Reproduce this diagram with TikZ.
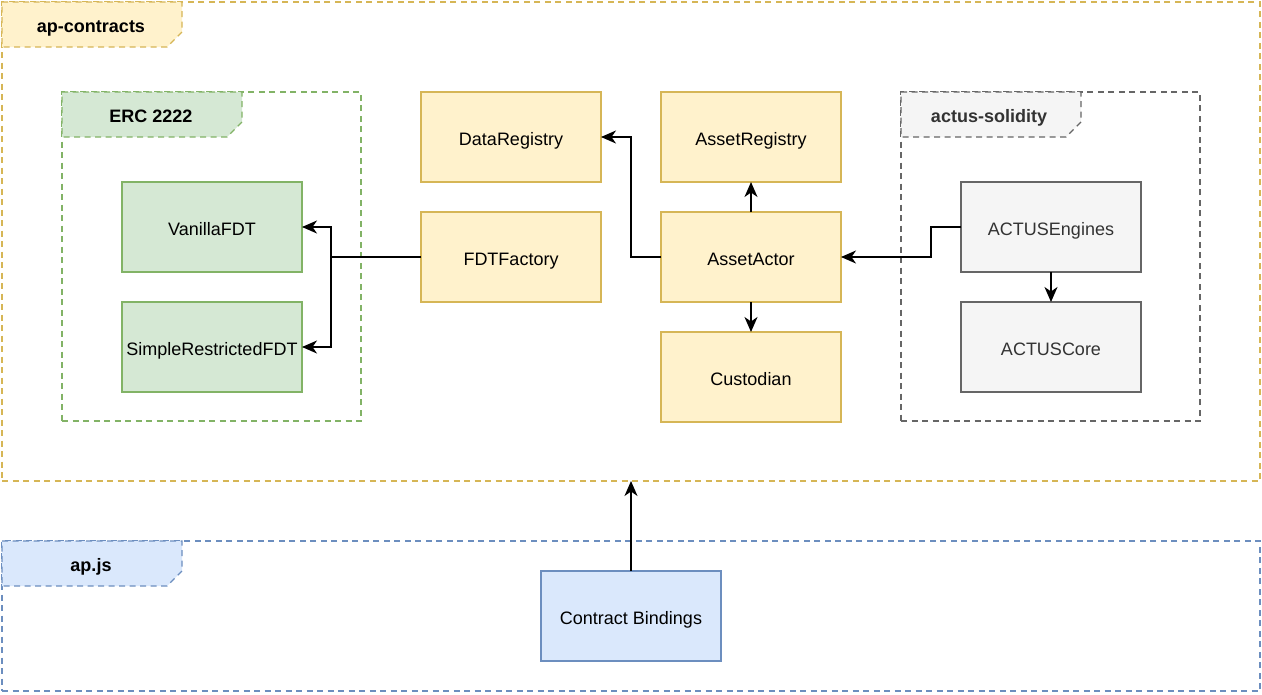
\documentclass[tikz,border=0pt]{standalone}
\usepackage{fontspec}
\setmainfont{Liberation Sans}
\usetikzlibrary{arrows.meta}
\definecolor{yfill}{HTML}{FFF2CC}\definecolor{ydraw}{HTML}{D6B656}
\definecolor{gfill}{HTML}{D5E8D4}\definecolor{gdraw}{HTML}{82B366}
\definecolor{sfill}{HTML}{F5F5F5}\definecolor{sdraw}{HTML}{666666}\definecolor{stext}{HTML}{333333}
\definecolor{bfill}{HTML}{DAE8FC}\definecolor{bdraw}{HTML}{6C8EBF}
\newcommand{\tabpath}[2]{(#1,#2) -- ++(180,0) -- ++(0,30) -- ++(-15,15) -- ++(-165,0) -- cycle}
\begin{document}
\begin{tikzpicture}[x=1pt,y=-1pt,
  every node/.style={font=\fontsize{18}{21}\selectfont},
  box/.style={draw, rectangle, line width=1.2pt, minimum width=180pt, minimum height=90pt, inner sep=0pt, outer sep=0pt, anchor=north west, text height=16pt, text depth=0pt},
  ybox/.style={box, fill=yfill, draw=ydraw},
  gbox/.style={box, fill=gfill, draw=gdraw},
  sbox/.style={box, fill=sfill, draw=sdraw, text=stext},
  bbox/.style={box, fill=bfill, draw=bdraw},
  frm/.style={rectangle, line width=1.2pt, dash pattern=on 6pt off 4.5pt, inner sep=0pt, outer sep=0pt, anchor=north west},
  tabstyle/.style={line width=1.2pt, dash pattern=on 6pt off 4.5pt},
  tablabel/.style={font=\fontsize{18}{21}\selectfont\bfseries, text height=14pt, text depth=0pt, inner sep=0pt},
  arr/.style={-{Stealth[length=15pt,width=13pt,inset=4.5pt]}, line width=1.5pt, black},
  ln/.style={line width=1.5pt, black}
]
\useasboundingbox (0,0) rectangle (1262,694);
% frames
\node[frm, draw=ydraw, minimum width=1258pt, minimum height=479pt] (apc) at (2,2) {};
\draw[tabstyle, draw=ydraw, fill=yfill] \tabpath{2}{2};
\node[tablabel] (apclabel) at (91,25) {ap-contracts};

\node[frm, draw=gdraw, minimum width=299pt, minimum height=329pt] (erc) at (62,92) {};
\draw[tabstyle, draw=gdraw, fill=gfill] \tabpath{62}{92};
\node[tablabel] (erclabel) at (151,115) {ERC 2222};

\node[frm, draw=sdraw, minimum width=299pt, minimum height=329pt] (acs) at (901,92) {};
\draw[tabstyle, draw=sdraw, fill=sfill] \tabpath{901}{92};
\node[tablabel, text=stext] (acslabel) at (989,115) {actus-solidity};

\node[frm, draw=bdraw, minimum width=1258pt, minimum height=150pt] (apjs) at (2,541) {};
\draw[tabstyle, draw=bdraw, fill=bfill] \tabpath{2}{541};
\node[tablabel] (apjslabel) at (91,564) {ap.js};

% nodes
\node[ybox] (dr) at (421,92) {DataRegistry};
\node[ybox] (ar) at (661,92) {AssetRegistry};
\node[ybox] (ff) at (421,212) {FDTFactory};
\node[ybox] (aa) at (661,212) {AssetActor};
\node[ybox] (cu) at (661,332) {Custodian};
\node[gbox] (vf) at (122,182) {VanillaFDT};
\node[gbox] (sr) at (122,302) {SimpleRestrictedFDT};
\node[sbox] (ae) at (961,182) {ACTUSEngines};
\node[sbox] (ac) at (961,302) {ACTUSCore};
\node[bbox] (cb) at (541,571) {Contract Bindings};

% connectors
\coordinate (fj) at (331,257);
\draw[ln] (ff.west) -- (fj);
\draw[arr] (fj) |- (vf.east);
\draw[arr] (fj) |- (sr.east);
\draw[arr] (aa.west) -- (631,257) |- (dr.east);
\draw[arr] (aa.north) -- (ar.south);
\draw[arr] (aa.south) -- (cu.north);
\draw[arr] (ae.west) -- (931,227) |- (aa.east);
\draw[arr] (ae.south) -- (ac.north);
\draw[arr] (cb.north) -- (cb.north |- apc.south);
\end{tikzpicture}
\end{document}
